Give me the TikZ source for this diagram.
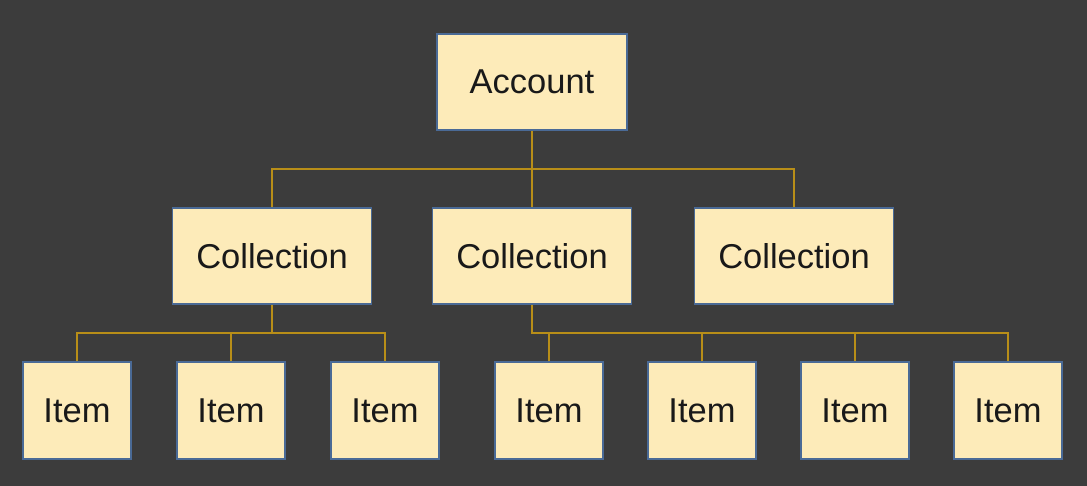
\documentclass[tikz,border=0pt]{standalone}
\usepackage{fontspec}
\setmainfont{Liberation Sans}
\usepackage{tikz}
\usetikzlibrary{calc}
\definecolor{bgdark}{RGB}{60,60,60}
\definecolor{boxfill}{RGB}{253,235,185}
\definecolor{boxline}{RGB}{74,106,150}
\definecolor{linkgold}{RGB}{184,142,24}
\tikzset{
  treebox/.style={draw=boxline, line width=1.2pt, fill=boxfill, inner sep=0pt,
    font=\fontsize{34.5}{40}\selectfont, text=black!90},
  accbox/.style={treebox, minimum width=190pt, minimum height=96pt},
  colbox/.style={treebox, minimum width=199pt, minimum height=96pt},
  itembox/.style={treebox, minimum width=108pt, minimum height=97pt},
  link/.style={draw=linkgold, line width=1.6pt}
}

\begin{document}
\begin{tikzpicture}[x=1pt,y=-1pt]
\fill[bgdark] (0,0) rectangle (1087,486);
\node[accbox] (acc) at (532,82) {Account};
\node[colbox] (col1) at (272,256) {Collection};
\node[colbox] (col2) at (532,256) {Collection};
\node[colbox] (col3) at (794,256) {Collection};
\foreach \n/\x in {1/77,2/231,3/385,4/549,5/702,6/855,7/1008}
  \node[itembox] (item\n) at (\x,410.5) {Item};
\coordinate (busacc) at (532,169);
\coordinate (busleft) at (272,333);
\coordinate (busright) at (532,333);
\draw[link] (acc.south) -- (col2.north);
\draw[link] (col1.north) |- (busacc) -| (col3.north);
\draw[link] (col1.south) -- (busleft);
\draw[link] (item1.north) |- (busleft) -| (item3.north);
\draw[link] (item2.north) -- (item2.north |- busleft);
\draw[link] (col2.south) -- (busright) -| (item7.north);
\foreach \n in {4,5,6}
  \draw[link] (item\n.north) -- (item\n.north |- busright);
\end{tikzpicture}
\end{document}
